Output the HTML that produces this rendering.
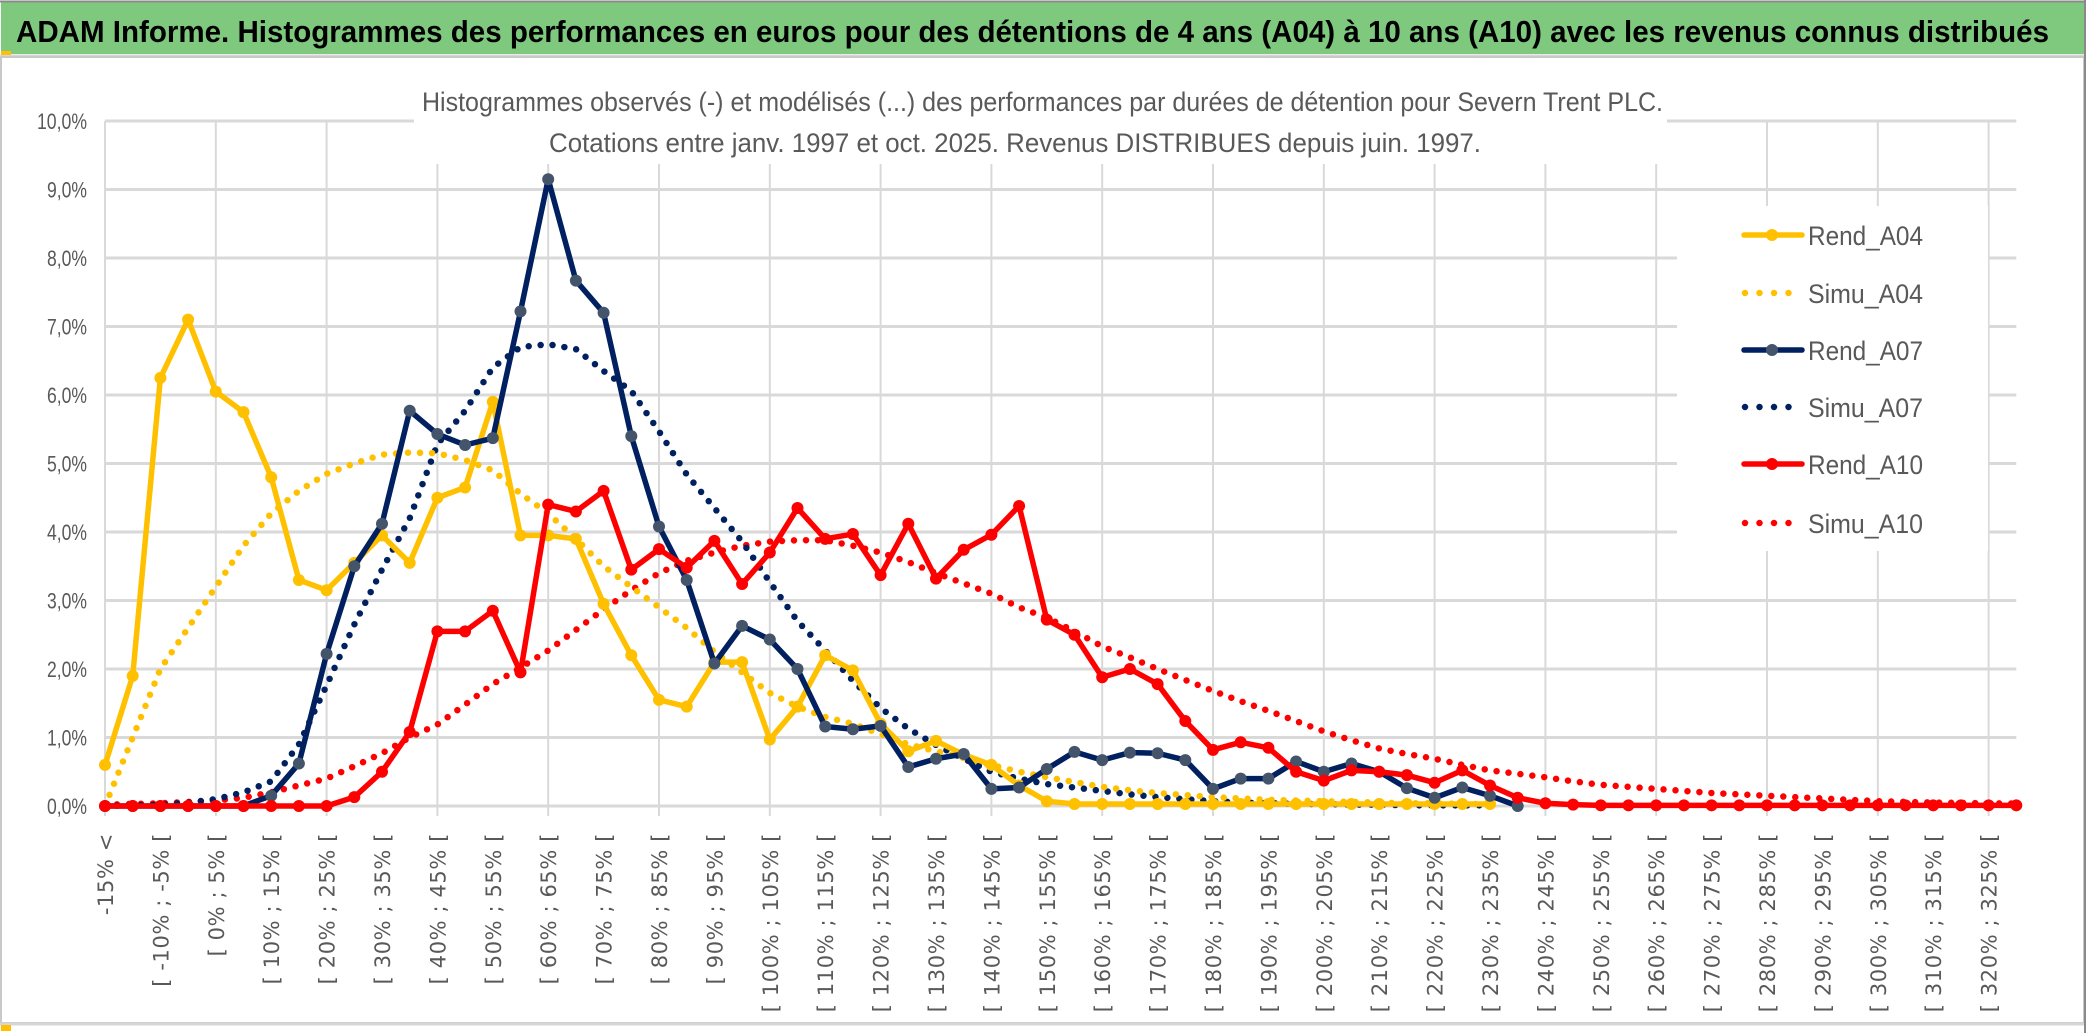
<!DOCTYPE html>
<html><head><meta charset="utf-8">
<style>
html,body{margin:0;padding:0;background:#fff;}
svg{display:block;}
text{font-family:"Liberation Sans",sans-serif;}
</style></head>
<body>
<svg id="chart" width="2086" height="1033" viewBox="0 0 2086 1033" xmlns="http://www.w3.org/2000/svg">
  <rect x="0" y="0" width="2086" height="1033" fill="#fff"/>
  <rect x="1" y="2" width="2084" height="52" fill="#7fc97f"/>
  <line x1="0" y1="1.5" x2="2086" y2="1.5" stroke="#8a8a8a" stroke-width="2"/>
  <text x="16" y="42" font-size="31" font-weight="bold" fill="#000" textLength="2033" lengthAdjust="spacingAndGlyphs">ADAM Informe. Histogrammes des performances en euros pour des détentions de 4 ans (A04) à 10 ans (A10) avec les revenus connus distribués</text>
  <line x1="0" y1="56" x2="2086" y2="56" stroke="#d6d6d6" stroke-width="3"/>
  <rect x="1" y="57" width="2083" height="966" fill="none" stroke="#c8c8c8" stroke-width="2"/>
  <line x1="0" y1="1024" x2="2086" y2="1024" stroke="#d6d6d6" stroke-width="3"/>
  <line x1="2085" y1="0" x2="2085" y2="1033" stroke="#8a8a8a" stroke-width="2"/>
  <rect x="1" y="51" width="10" height="4" fill="#ffc000"/>
  <rect x="1" y="1025" width="10" height="6" fill="#ffc000"/>
  <g id="grid"></g>
  <rect x="414" y="68" width="1253" height="96" fill="#fff"/>
  <text x="422" y="111" font-size="27" fill="#595959" textLength="1241" lengthAdjust="spacingAndGlyphs">Histogrammes observés (-) et modélisés (...) des performances par durées de détention pour Severn Trent PLC.</text>
  <text x="549" y="152" font-size="27" fill="#595959" textLength="932" lengthAdjust="spacingAndGlyphs">Cotations entre janv. 1997 et oct. 2025. Revenus DISTRIBUES depuis juin. 1997.</text>
  <g id="yaxis"></g>
  <g id="xaxis"></g>
  <rect x="1677" y="206" width="311" height="345" fill="#fff"/>
  <g id="series"></g>
  <g id="legend"></g>
</svg>
<script>
const NS='http://www.w3.org/2000/svg';
const categories=['-15% <','[ -15% ; -10% [','[ -10% ; -5% [','[ -5% ; 0% [','[ 0% ; 5% [','[ 5% ; 10% [','[ 10% ; 15% [','[ 15% ; 20% [','[ 20% ; 25% [','[ 25% ; 30% [','[ 30% ; 35% [','[ 35% ; 40% [','[ 40% ; 45% [','[ 45% ; 50% [','[ 50% ; 55% [','[ 55% ; 60% [','[ 60% ; 65% [','[ 65% ; 70% [','[ 70% ; 75% [','[ 75% ; 80% [','[ 80% ; 85% [','[ 85% ; 90% [','[ 90% ; 95% [','[ 95% ; 100% [','[ 100% ; 105% [','[ 105% ; 110% [','[ 110% ; 115% [','[ 115% ; 120% [','[ 120% ; 125% [','[ 125% ; 130% [','[ 130% ; 135% [','[ 135% ; 140% [','[ 140% ; 145% [','[ 145% ; 150% [','[ 150% ; 155% [','[ 155% ; 160% [','[ 160% ; 165% [','[ 165% ; 170% [','[ 170% ; 175% [','[ 175% ; 180% [','[ 180% ; 185% [','[ 185% ; 190% [','[ 190% ; 195% [','[ 195% ; 200% [','[ 200% ; 205% [','[ 205% ; 210% [','[ 210% ; 215% [','[ 215% ; 220% [','[ 220% ; 225% [','[ 225% ; 230% [','[ 230% ; 235% [','[ 235% ; 240% [','[ 240% ; 245% [','[ 245% ; 250% [','[ 250% ; 255% [','[ 255% ; 260% [','[ 260% ; 265% [','[ 265% ; 270% [','[ 270% ; 275% [','[ 275% ; 280% [','[ 280% ; 285% [','[ 285% ; 290% [','[ 290% ; 295% [','[ 295% ; 300% [','[ 300% ; 305% [','[ 305% ; 310% [','[ 310% ; 315% [','[ 315% ; 320% [','[ 320% ; 325% [','325% >'];
const yTicks=[0,1,2,3,4,5,6,7,8,9,10];
const yTickLabels=['0,0%','1,0%','2,0%','3,0%','4,0%','5,0%','6,0%','7,0%','8,0%','9,0%','10,0%'];
const rendA04=[0.6,1.9,6.25,7.1,6.05,5.75,4.8,3.3,3.15,3.55,3.95,3.55,4.5,4.65,5.9,3.95,3.95,3.9,2.95,2.2,1.55,1.45,2.1,2.1,0.97,1.45,2.2,1.98,1.2,0.8,0.95,0.75,0.6,0.3,0.07,0.03,0.03,0.03,0.03,0.03,0.03,0.03,0.03,0.03,0.03,0.03,0.03,0.03,0.03,0.03,0.03];
const simuA04=[0.0,1.0,2.0,2.6,3.2,3.8,4.27,4.6,4.85,5.0,5.13,5.16,5.15,5.05,4.9,4.56,4.27,3.9,3.5,3.2,2.9,2.6,2.25,1.95,1.65,1.45,1.3,1.2,1.05,0.9,0.8,0.7,0.6,0.5,0.42,0.35,0.28,0.23,0.19,0.16,0.13,0.11,0.09,0.08,0.07,0.06,0.05,0.04,0.04,0.03,0.03];
const rendA07=[0,0,0,0,0,0,0.15,0.62,2.22,3.5,4.12,5.77,5.43,5.27,5.37,7.22,9.15,7.67,7.2,5.4,4.08,3.3,2.08,2.63,2.43,2.0,1.16,1.12,1.17,0.57,0.69,0.76,0.25,0.27,0.54,0.79,0.67,0.78,0.77,0.67,0.25,0.4,0.4,0.65,0.5,0.62,0.5,0.26,0.12,0.27,0.15,0.0];
const simuA07=[0,0.01,0.02,0.05,0.1,0.2,0.36,0.9,1.76,2.65,3.45,4.2,5.28,5.77,6.4,6.7,6.74,6.67,6.35,6.06,5.47,4.84,4.35,3.86,3.27,2.7,2.27,1.83,1.43,1.13,0.89,0.69,0.5,0.4,0.32,0.27,0.22,0.17,0.13,0.1,0.07,0.05,0.04,0.03,0.03,0.02,0.02,0.01,0.01,0.01,0.01];
const rendA10=[0,0,0,0,0,0,0,0,0,0.13,0.5,1.08,2.55,2.55,2.85,1.95,4.4,4.3,4.6,3.45,3.75,3.48,3.87,3.24,3.7,4.35,3.9,3.97,3.37,4.12,3.32,3.74,3.96,4.38,2.72,2.5,1.88,2.0,1.78,1.24,0.82,0.93,0.85,0.5,0.37,0.52,0.5,0.45,0.34,0.52,0.3,0.12,0.04,0.02,0.01,0.01,0.01,0.01,0.01,0.01,0.01,0.01,0.01,0.01,0.01,0.01,0.01,0.01,0.01,0.01];
const simuA10=[0.02,0.03,0.04,0.06,0.08,0.12,0.2,0.3,0.4,0.58,0.77,1.0,1.19,1.48,1.78,2.02,2.27,2.57,2.87,3.15,3.4,3.58,3.7,3.8,3.86,3.88,3.88,3.8,3.7,3.56,3.4,3.25,3.1,2.9,2.75,2.55,2.33,2.17,2.0,1.84,1.68,1.53,1.39,1.24,1.09,0.96,0.84,0.76,0.69,0.6,0.52,0.47,0.42,0.36,0.31,0.28,0.25,0.22,0.19,0.17,0.15,0.13,0.11,0.09,0.07,0.06,0.05,0.045,0.04,0.035];

const X0=105, STEP=27.7, Y0=806, YPP=68.5;
function xScale(i){return X0+i*STEP;}
function yScale(v){return Y0-v*YPP;}
function mk(tag,attrs,parent){const e=document.createElementNS(NS,tag);for(const k in attrs)e.setAttribute(k,attrs[k]);parent.appendChild(e);return e;}

const grid=document.getElementById('grid');
const plotRight=xScale(categories.length-1);
yTicks.forEach((t,k)=>{
  const y=yScale(t);
  const l=mk('line',{x1:X0,y1:y,x2:plotRight,y2:y,stroke:'#d9d9d9','stroke-width':3},grid);
  
  
});
for(let i=0;i<categories.length;i+=4){
  const x=xScale(i);
  const l=mk('line',{x1:x,y1:yScale(10),x2:x,y2:Y0+10,stroke:'#d9d9d9','stroke-width':2},grid);
  
  
}
const yaxis=document.getElementById('yaxis');
yTicks.forEach((t,k)=>{
  const tx=mk('text',{x:87,y:yScale(t)+8,'font-size':22,fill:'#595959','text-anchor':'end',textLength:yTickLabels[k].length>4?50:40,lengthAdjust:'spacingAndGlyphs'},yaxis);
  tx.textContent=yTickLabels[k];
  
  
});
const xaxis=document.getElementById('xaxis');
categories.forEach((c,i)=>{
  if(i%2!==0)return;
  const x=xScale(i)+8;
  const tx=mk('text',{x:0,y:0,'font-size':21,fill:'#595959','text-anchor':'end','letter-spacing':'0.6',transform:`translate(${x},833) rotate(-90)`,style:'font-family:"DejaVu Sans",sans-serif'},xaxis);
  tx.textContent=c;
  
  
});
const series=document.getElementById('series');
function pts(arr){return arr.map((v,i)=>xScale(i)+','+yScale(v)).join(' ');}
function dotted(arr,color,name){
  const p=mk('polyline',{points:pts(arr),fill:'none',stroke:color,'stroke-width':6.5,'stroke-linecap':'round','stroke-dasharray':'0 12'},series);
  
  
}
function solid(arr,color,mcolor,name){
  const p=mk('polyline',{points:pts(arr),fill:'none',stroke:color,'stroke-width':5.5,'stroke-linejoin':'round'},series);
  
  
  arr.forEach((v,i)=>{
    const c=mk('circle',{cx:xScale(i),cy:yScale(v),r:6,fill:mcolor},series);
    
    
  });
}
dotted(simuA10,'#ff0000','simu-a10-line');
dotted(simuA07,'#002060','simu-a07-line');
dotted(simuA04,'#ffc000','simu-a04-line');
solid(rendA04,'#ffc000','#ffc000','rend-a04-line');
solid(rendA07,'#002060','#44546a','rend-a07-line');
solid(rendA10,'#ff0000','#ff0000','rend-a10-line');

const legend=document.getElementById('legend');
const legendNames=['Rend_A04','Simu_A04','Rend_A07','Simu_A07','Rend_A10','Simu_A10'];
const legendColors=['#ffc000','#ffc000','#002060','#002060','#ff0000','#ff0000'];
const legendY=[235,293,350,407,464,523];
legendNames.forEach((n,k)=>{
  const y=legendY[k];
  const g=mk('g',{},legend);
  
  
  if(k%2===0){
    mk('line',{x1:1744,y1:y,x2:1802,y2:y,stroke:legendColors[k],'stroke-width':5.5,'stroke-linecap':'round'},g);
    mk('circle',{cx:1772,cy:y,r:6,fill:k===2?'#44546a':legendColors[k]},g);
  } else {
    mk('line',{x1:1745,y1:y,x2:1800,y2:y,stroke:legendColors[k],'stroke-width':6.5,'stroke-linecap':'round','stroke-dasharray':'0 14.5'},g);
  }
  const t=mk('text',{x:1808,y:y+10,'font-size':27,fill:'#595959',textLength:115,lengthAdjust:'spacingAndGlyphs'},g);
  t.textContent=n;
});
</script>
</body></html>
